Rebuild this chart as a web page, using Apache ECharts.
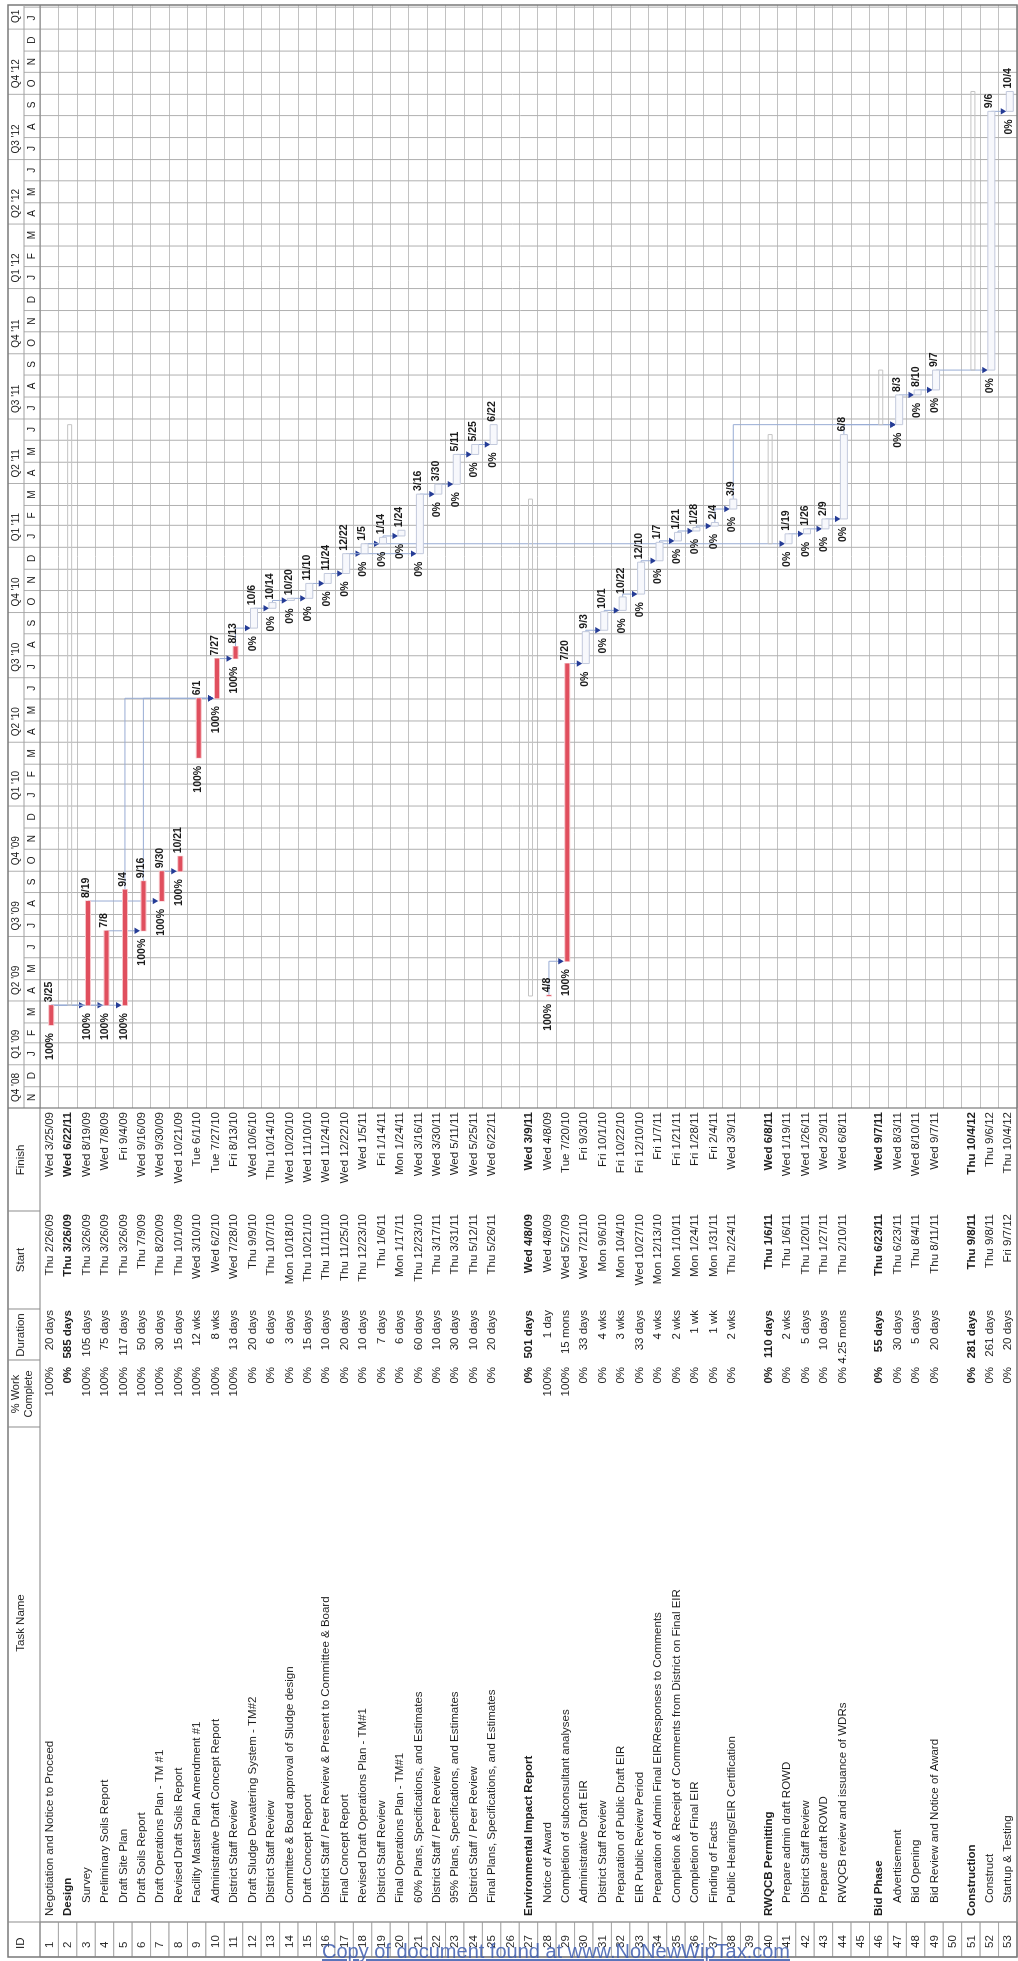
<!DOCTYPE html>
<html>
<head>
<meta charset="utf-8">
<script src="https://cdn.jsdelivr.net/npm/echarts@6/dist/echarts.min.js"></script>
<style>
html,body{margin:0;padding:0;background:#fff;width:1018px;height:1961px;overflow:hidden;}
#rot{position:absolute;left:0;top:0;width:1961px;height:1018px;transform-origin:0 0;transform:translate(0px,1961px) rotate(-90deg);}
#chart{width:1961px;height:1018px;}
#wm{position:absolute;left:322px;top:1941px;font:20px 'Liberation Sans',Arial,sans-serif;line-height:20px;color:#3d5cb0;opacity:0.85;text-decoration:underline;white-space:nowrap;}
</style>
</head>
<body>
<div id="rot"><div id="chart"></div></div>
<div id="wm">Copy of document found at www.NoNewWipTax.com</div>
<script>
// ---------------- DATA ----------------
const taskNames = [
 'Negotiation and Notice to Proceed','Design','Survey','Preliminary Soils Report','Draft Site Plan',
 'Draft Soils Report','Draft Operations Plan - TM #1','Revised Draft Soils Report','Facility Master Plan Amendment #1',
 'Administrative Draft Concept Report','District Staff Review','Draft Sludge Dewatering System - TM#2','District Staff Review',
 'Committee & Board approval of Sludge design','Draft Concept Report','District Staff / Peer Review & Present to Committee & Board',
 'Final Concept Report','Revised Draft Operations Plan - TM#1','District Staff Review','Final Operations Plan - TM#1',
 '60% Plans, Specifications, and Estimates','District Staff / Peer Review','95% Plans, Specifications, and Estimates',
 'District Staff / Peer Review','Final Plans, Specifications, and Estimates','',
 'Environmental Impact Report','Notice of Award','Completion of subconsultant analyses','Administrative Draft EIR',
 'District Staff Review','Preparation of Public Draft EIR','EIR Public Review Period',
 'Preparation of Admin Final EIR/Responses to Comments','Completion & Receipt of Comments from District on Final EIR',
 'Completion of Final EIR','Finding of Facts','Public Hearings/EIR Certification','',
 'RWQCB Permitting','Prepare admin draft ROWD','District Staff Review','Prepare draft ROWD','RWQCB review and issuance of WDRs','',
 'Bid Phase','Advertisement','Bid Opening','Bid Review and Notice of Award','',
 'Construction','Construct','Startup & Testing'
];
const summaryIds = [2, 27, 40, 46, 51];
const topLevelIds = [1, 2, 27, 40, 46, 51];
const pctComplete = [100,0,100,100,100,100,100,100,100,100,100,0,0,0,0,0,0,0,0,0,0,0,0,0,0,null,
 0,100,100,0,0,0,0,0,0,0,0,0,null,0,0,0,0,0,null,0,0,0,0,null,0,0,0];
const durations = ['20 days','585 days','105 days','75 days','117 days','50 days','30 days','15 days','12 wks','8 wks',
 '13 days','20 days','6 days','3 days','15 days','10 days','20 days','10 days','7 days','6 days','60 days','10 days',
 '30 days','10 days','20 days','','501 days','1 day','15 mons','33 days','4 wks','3 wks','33 days','4 wks','2 wks',
 '1 wk','1 wk','2 wks','','110 days','2 wks','5 days','10 days','4.25 mons','','55 days','30 days','5 days','20 days',
 '','281 days','261 days','20 days'];
const startDates = ['2009-02-26','2009-03-26','2009-03-26','2009-03-26','2009-03-26','2009-07-09','2009-08-20','2009-10-01',
 '2010-03-10','2010-06-02','2010-07-28','2010-09-09','2010-10-07','2010-10-18','2010-10-21','2010-11-11','2010-11-25',
 '2010-12-23','2011-01-06','2011-01-17','2010-12-23','2011-03-17','2011-03-31','2011-05-12','2011-05-26',null,
 '2009-04-08','2009-04-08','2009-05-27','2010-07-21','2010-09-06','2010-10-04','2010-10-27','2010-12-13','2011-01-10',
 '2011-01-24','2011-01-31','2011-02-24',null,'2011-01-06','2011-01-06','2011-01-20','2011-01-27','2011-02-10',null,
 '2011-06-23','2011-06-23','2011-08-04','2011-08-11',null,'2011-09-08','2011-09-08','2012-09-07'];
const finishDates = ['2009-03-25','2011-06-22','2009-08-19','2009-07-08','2009-09-04','2009-09-16','2009-09-30','2009-10-21',
 '2010-06-01','2010-07-27','2010-08-13','2010-10-06','2010-10-14','2010-10-20','2010-11-10','2010-11-24','2010-12-22',
 '2011-01-05','2011-01-14','2011-01-24','2011-03-16','2011-03-30','2011-05-11','2011-05-25','2011-06-22',null,
 '2011-03-09','2009-04-08','2010-07-20','2010-09-03','2010-10-01','2010-10-22','2010-12-10','2011-01-07','2011-01-21',
 '2011-01-28','2011-02-04','2011-03-09',null,'2011-06-08','2011-01-19','2011-01-26','2011-02-09','2011-06-08',null,
 '2011-09-07','2011-08-03','2011-08-10','2011-09-07',null,'2012-10-04','2012-09-06','2012-10-04'];
// predecessor -> successor (task IDs)
const links = [[1,3],[1,4],[1,5],[4,6],[3,7],[7,8],[5,10],[6,10],[9,10],[10,11],[11,12],[12,13],[13,14],[14,15],
 [15,16],[16,17],[17,18],[17,21],[18,19],[19,20],[18,41],[21,22],[22,23],[23,24],[24,25],[28,29],[29,30],[30,31],
 [31,32],[32,33],[33,34],[34,35],[35,36],[36,37],[37,38],[41,42],[42,43],[43,44],[38,47],[44,47],[47,48],[48,49],
 [49,52],[52,53]];
const timelineStart = '2008-11-01';
const timelineEnd = '2013-02-04';
const monthLetters = ['J','F','M','A','M','J','J','A','S','O','N','D'];
const weekdayNames = ['Sun','Mon','Tue','Wed','Thu','Fri','Sat'];
const headerTitles = {id:'ID', name:'Task Name', pct1:'% Work', pct2:'Complete', dur:'Duration', start:'Start', finish:'Finish'};

// ---------------- HELPERS ----------------
const DAY = 86400000;
function toTs(s){ const p = s.split('-').map(Number); return Date.UTC(p[0], p[1]-1, p[2]); }
function fmtLong(s){ const d = new Date(toTs(s)); return weekdayNames[d.getUTCDay()] + ' ' + (d.getUTCMonth()+1) + '/' + d.getUTCDate() + '/' + String(d.getUTCFullYear()).slice(2); }
function fmtShort(s){ const d = new Date(toTs(s)); return (d.getUTCMonth()+1) + '/' + d.getUTCDate(); }
const FONT = "'Liberation Sans', Arial, Helvetica, sans-serif";
const rowIds = taskNames.map((_, i) => String(i + 1));
const TFS = '11.5px ';

// layout (landscape page, later rotated)
const FR_L = 4, FR_T = 8, FR_R = 1956, FR_B = 1017, HDR_B = 40, TL_L = 853;
const COL = {id:[4,39], name:[39,534], pct:[534,601], dur:[601,652], start:[652,750], finish:[750,853]};

// ---------------- SERIES DATA ----------------
const tableData = taskNames.map((_, i) => [0, i]);
const ganttData = [];
taskNames.forEach((n, i) => {
  if (!startDates[i]) return;
  ganttData.push([i, toTs(startDates[i]), toTs(finishDates[i]) + DAY, pctComplete[i], summaryIds.includes(i+1) ? 1 : 0]);
});
const linkData = links.map(([a, b]) => [a-1, toTs(finishDates[a-1]) + DAY, b-1, toTs(startDates[b-1]), pctComplete[b-1]]);
const monthData = [];
{
  const s = new Date(toTs(timelineStart)); let y = s.getUTCFullYear(), m = s.getUTCMonth();
  const endTs = toTs(timelineEnd);
  while (Date.UTC(y, m, 1) < endTs) {
    monthData.push([Date.UTC(y, m, 1), Date.UTC(y, m+1, 1), m, y, monthData.length === 0 ? 1 : 0]);
    m++; if (m > 11) { m = 0; y++; }
  }
}

function txt(text, x, y, align, font, fill, extra){
  return {type:'text', silent:true, style:Object.assign({text, x, y, textAlign:align, textVerticalAlign:'middle', align:align, verticalAlign:'middle', font, fill: fill || '#1e1e1e'}, extra||{})};
}

// ---------------- RENDERERS ----------------
function renderTable(params, api){
  const i = api.value(1);
  const yc = api.coord([0, i])[1];
  const h = api.size([0, 1])[1];
  const bold = summaryIds.includes(i+1);
  const f = (bold ? 'bold ' : '') + TFS + FONT;
  const ch = [];
  ch.push({type:'rect', silent:true, shape:{x:COL.id[0], y:yc-h/2, width:COL.id[1]-COL.id[0], height:h}, style:{fill:'#fff', stroke:'#a8a8a8', lineWidth:1}});
  ch.push(txt(rowIds[i], COL.id[0]+9, yc+0.5, 'left', TFS + FONT, '#2a2a2a'));
  if (taskNames[i]) {
    const indent = topLevelIds.includes(i+1) ? 0 : 13;
    ch.push(txt(taskNames[i], COL.name[0]+6+indent, yc+0.5, 'left', f));
    ch.push(txt(pctComplete[i] + '%', COL.pct[1]-7, yc+0.5, 'right', f));
    ch.push(txt(durations[i], COL.dur[1]-1, yc+0.5, 'right', f));
    ch.push(txt(fmtLong(startDates[i]), COL.start[1]-3, yc+0.5, 'right', f));
    ch.push(txt(fmtLong(finishDates[i]), COL.finish[1]-4, yc+0.5, 'right', f));
  }
  return {type:'group', children:ch};
}

function renderMonths(params, api){
  const cs = params.coordSys;
  const left = cs.x, right = cs.x + cs.width, bottom = cs.y + cs.height;
  const s = api.value(0), e = api.value(1), m = api.value(2), y = api.value(3), first = api.value(4);
  const xs = api.coord([s, 0])[0], xe = api.coord([e, 0])[0];
  const x0 = Math.max(xs, left), x1 = Math.min(xe, right);
  const ch = [];
  if (xs > left + 0.5) {
    ch.push({type:'line', silent:true, shape:{x1:xs, y1:(m % 3 === 0) ? FR_T : 24, x2:xs, y2:bottom}, style:{stroke:'#b0b0b0', lineWidth:1}});
  }
  if (x1 - x0 > 8) ch.push(txt(monthLetters[m], (x0 + x1)/2, 32.5, 'center', '10px ' + FONT, '#222'));
  if (m % 3 === 0 || first) {
    const lx = x0 + 6;
    const label = 'Q' + (Math.floor(m/3)+1) + " '" + String(y).slice(2);
    if (right - lx > 4) ch.push(txt(label, lx, 16.5, 'left', '10px ' + FONT, '#222', {width: right - lx - 1, overflow:'truncate', ellipsis:''}));
  }
  return {type:'group', children:ch};
}

function renderTask(params, api){
  const i = api.value(0), s = api.value(1), e = api.value(2), pct = api.value(3), summ = api.value(4);
  const p0 = api.coord([s, i]), p1 = api.coord([e, i]);
  const yb = p0[1] + 2;
  const w = Math.max(p1[0] - p0[0], 0.8);
  const ch = [];
  const lf = 'bold 10.5px ' + FONT;
  if (summ) {
    ch.push({type:'rect', silent:true, shape:{x:p0[0], y:yb-2, width:w, height:4}, style:{fill:'rgba(255,255,255,0)', stroke:'#c4c4c4', lineWidth:1}});
    return {type:'group', children:ch};
  }
  if (pct >= 100) {
    ch.push({type:'rect', silent:true, shape:{x:p0[0]-0.5, y:yb-3, width:w+1, height:6}, style:{fill:'#f5c3c8'}});
    ch.push({type:'rect', silent:true, shape:{x:p0[0], y:yb-2, width:w, height:4}, style:{fill:'#e04f5e'}});
  } else {
    ch.push({type:'rect', silent:true, shape:{x:p0[0], y:yb-3.5, width:w, height:7}, style:{fill:'#f7f8fc', stroke:'#c2c9dc', lineWidth:1}});
  }
  ch.push(txt(pct + '%', p0[0]-8, p0[1]+1, 'right', lf, '#1a1a1a'));
  ch.push(txt(fmtShort(finishDates[i]), p1[0]+3, p0[1], 'left', lf, '#1a1a1a'));
  return {type:'group', children:ch};
}

function renderLink(params, api){
  const fr = api.value(0), fe = api.value(1), tr = api.value(2), ts = api.value(3);
  const a = api.coord([fe, fr]), b = api.coord([ts, tr]);
  const ya = a[1] + 2, xa = a[0];
  const xb = Math.max(b[0], xa);
  const tip = b[1] + 2 - 3.5;
  return {type:'group', children:[
    {type:'polyline', silent:true, shape:{points:[[xa, ya], [xb, ya], [xb, tip-5]]}, style:{fill:null, stroke:'#98acd4', lineWidth:1}},
    {type:'polygon', silent:true, shape:{points:[[xb-3.2, tip-5.5], [xb+3.2, tip-5.5], [xb, tip]]}, style:{fill:'#253c96'}}
  ]};
}

// ---------------- GRAPHIC (frame + header) ----------------
const lineC = '#8c8c8c';
function gLine(x1,y1,x2,y2,c,w){ return {type:'line', silent:true, shape:{x1,y1,x2,y2}, style:{stroke:c||lineC, lineWidth:w||1}, z:10}; }
function gText(t, x, y, align, font){ return {type:'text', silent:true, x, y, style:{text:t, textAlign:align, textVerticalAlign:'middle', align:align, verticalAlign:'middle', font:font||(TFS+FONT), fill:'#222'}, z:10}; }
const graphics = [
  {type:'rect', silent:true, shape:{x:FR_L, y:FR_T, width:FR_R-FR_L, height:FR_B-FR_T}, style:{fill:'rgba(0,0,0,0)', stroke:'#7a7a7a', lineWidth:1.5}, z:10},
  gLine(FR_L, HDR_B, FR_R, HDR_B, '#808080', 1.2),
  gLine(TL_L, 24, FR_R, 24, '#a0a0a0'),
  gLine(COL.id[1], FR_T, COL.id[1], FR_B),
  gLine(TL_L, FR_T, TL_L, FR_B, '#7a7a7a', 1.2),
  gLine(COL.name[1], FR_T, COL.name[1], HDR_B),
  gLine(COL.pct[1], FR_T, COL.pct[1], HDR_B),
  gLine(COL.dur[1], FR_T, COL.dur[1], HDR_B),
  gLine(COL.start[1], FR_T, COL.start[1], HDR_B),
  gText(headerTitles.id, 12, 21, 'left'),
  gText(headerTitles.name, 338, 21, 'center'),
  gText(headerTitles.pct1, 567, 16, 'center', '11px '+FONT),
  gText(headerTitles.pct2, 567, 29, 'center', '11px '+FONT),
  gText(headerTitles.dur, 626, 21, 'center'),
  gText(headerTitles.start, 701, 21, 'center'),
  gText(headerTitles.finish, 801, 21, 'center')
];

// ---------------- CHART ----------------
const chart = echarts.init(document.getElementById('chart'), null, {renderer:'canvas'});
chart.setOption({
  animation:false,
  useUTC:true,
  backgroundColor:'#ffffff',
  grid:[
    {left:FR_L, top:HDR_B, width:TL_L-FR_L, height:FR_B-HDR_B},
    {left:TL_L, top:HDR_B, width:FR_R-TL_L, height:FR_B-HDR_B}
  ],
  xAxis:[
    {gridIndex:0, type:'value', min:0, max:TL_L-FR_L, show:false},
    {gridIndex:1, type:'time', min:toTs(timelineStart), max:toTs(timelineEnd), show:false}
  ],
  yAxis:[
    {gridIndex:0, type:'category', data:rowIds, inverse:true, show:false},
    {gridIndex:1, type:'category', data:rowIds, inverse:true, show:true,
      axisLine:{show:false}, axisTick:{show:false}, axisLabel:{show:false},
      splitLine:{show:true, interval:0, lineStyle:{color:'#c2c2c2', width:1}}}
  ],
  graphic:graphics,
  series:[
    {type:'custom', name:'table', xAxisIndex:0, yAxisIndex:0, data:tableData, renderItem:renderTable, encode:{x:0, y:1}, z:2, silent:true},
    {type:'custom', name:'months', xAxisIndex:1, yAxisIndex:1, data:monthData, renderItem:renderMonths, encode:{x:[0,1]}, z:1, silent:true},
    {type:'custom', name:'links', xAxisIndex:1, yAxisIndex:1, data:linkData, renderItem:renderLink, encode:{x:[1,3], y:[0,2]}, z:3, silent:true},
    {type:'custom', name:'tasks', xAxisIndex:1, yAxisIndex:1, data:ganttData, renderItem:renderTask, encode:{x:[1,2], y:0}, z:4, silent:true}
  ]
});
</script>
</body>
</html>
